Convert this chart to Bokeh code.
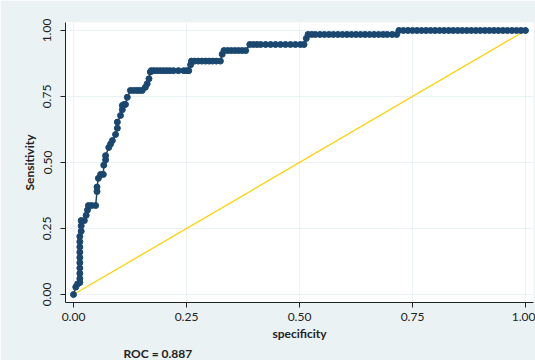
from bokeh.plotting import figure
from bokeh.models import Range1d, Title, FixedTicker
from bokeh.embed import file_html
from bokeh.resources import INLINE

# 1 - specificity (x) and sensitivity (y)
fpr = [0.000, 0.005, 0.009, 0.014, 0.014, 0.014, 0.014, 0.014, 0.014, 0.014, 0.014, 0.014, 0.014,
       0.017, 0.017, 0.017, 0.024, 0.028, 0.031, 0.033, 0.040, 0.049,
       0.052, 0.052, 0.055, 0.060, 0.066, 0.067, 0.071, 0.071, 0.078, 0.082, 0.086, 0.093,
       0.097, 0.097, 0.104, 0.108, 0.108, 0.112, 0.115, 0.119, 0.126, 0.133, 0.140, 0.146, 0.152,
       0.159, 0.163, 0.167, 0.170, 0.172,
       0.178, 0.185, 0.192, 0.199, 0.206, 0.213, 0.221, 0.232, 0.244, 0.251, 0.255,
       0.259, 0.261, 0.268, 0.276, 0.284, 0.292, 0.300, 0.308, 0.316, 0.325,
       0.329, 0.333, 0.341, 0.349, 0.357, 0.365, 0.373, 0.381,
       0.390, 0.398, 0.406, 0.414, 0.425, 0.436, 0.447, 0.458, 0.469, 0.480, 0.491, 0.502, 0.510,
       0.515, 0.519, 0.527, 0.535, 0.545, 0.555, 0.565, 0.575, 0.585, 0.595, 0.605, 0.615, 0.625,
       0.635, 0.645, 0.655, 0.665, 0.675, 0.685, 0.694, 0.705, 0.715,
       0.720, 0.730, 0.740, 0.750, 0.760, 0.770, 0.780, 0.790, 0.800, 0.810, 0.820, 0.830, 0.840,
       0.850, 0.860, 0.870, 0.880, 0.890, 0.900, 0.910, 0.920, 0.930, 0.940, 0.950, 0.960, 0.970,
       0.980, 0.990, 1.000]
tpr = [0.000, 0.028, 0.040, 0.045, 0.060, 0.080, 0.100, 0.120, 0.140, 0.160, 0.180, 0.200, 0.220,
       0.240, 0.260, 0.280, 0.280, 0.300, 0.320, 0.337, 0.337, 0.337,
       0.390, 0.407, 0.440, 0.455, 0.455, 0.490, 0.510, 0.526, 0.557, 0.570, 0.583, 0.606,
       0.630, 0.653, 0.678, 0.700, 0.716, 0.720, 0.720, 0.747, 0.773, 0.773, 0.773, 0.773, 0.773,
       0.785, 0.798, 0.817, 0.843, 0.848,
       0.848, 0.848, 0.848, 0.848, 0.848, 0.848, 0.848, 0.848, 0.848, 0.848, 0.848,
       0.870, 0.884, 0.884, 0.884, 0.884, 0.884, 0.884, 0.884, 0.884, 0.884,
       0.910, 0.924, 0.924, 0.924, 0.924, 0.924, 0.924, 0.924,
       0.947, 0.947, 0.947, 0.947, 0.947, 0.947, 0.947, 0.947, 0.947, 0.947, 0.947, 0.947, 0.947,
       0.970, 0.985, 0.985, 0.985, 0.985, 0.985, 0.985, 0.985, 0.985, 0.985, 0.985, 0.985, 0.985,
       0.985, 0.985, 0.985, 0.985, 0.985, 0.985, 0.985, 0.985, 0.985,
       1.000, 1.000, 1.000, 1.000, 1.000, 1.000, 1.000, 1.000, 1.000, 1.000, 1.000, 1.000, 1.000,
       1.000, 1.000, 1.000, 1.000, 1.000, 1.000, 1.000, 1.000, 1.000, 1.000, 1.000, 1.000, 1.000,
       1.000, 1.000, 1.000]
ref_x = [0.0, 1.0]
ref_y = [0.0, 1.0]
ticks = [0.0, 0.25, 0.5, 0.75, 1.0]
tick_labels = {0.0: "0.00", 0.25: "0.25", 0.5: "0.50", 0.75: "0.75", 1.0: "1.00"}
title_text = "ROC = 0.887"

BG = "#EAF2F3"
NAVY = "#1A476F"
FONT = "Lato"

p = figure(width=535, height=360, output_backend="svg", toolbar_location=None,
           x_range=Range1d(-0.0177, 1.0177), y_range=Range1d(-0.0303, 1.0303),
           min_border_left=65, min_border_right=2, min_border_top=22, min_border_bottom=58)
p.background_fill_color = "white"
p.border_fill_color = BG
p.outline_line_color = None

p.line(ref_x, ref_y, line_color="#FFD200", line_width=1.3)
p.line(fpr, tpr, line_color=NAVY, line_width=1.5)
p.scatter(fpr, tpr, size=6, fill_color=NAVY, line_color=NAVY)

for ax in (p.xaxis[0], p.yaxis[0]):
    ax.ticker = FixedTicker(ticks=ticks)
    ax.major_label_overrides = tick_labels
    ax.minor_tick_line_color = None
    ax.major_tick_out = 5
    ax.major_tick_in = 0
    ax.axis_line_color = "#222222"
    ax.major_tick_line_color = "#222222"
    ax.major_label_text_font = FONT
    ax.major_label_text_font_size = "12px"
    ax.major_label_text_color = "#222222"
    ax.axis_label_text_font = FONT
    ax.axis_label_text_font_size = "12px"
    ax.axis_label_text_font_style = "bold"
    ax.axis_label_text_color = "#222222"

p.xaxis.axis_label = "specificity"
p.yaxis.axis_label = "Sensitivity"
p.yaxis.major_label_orientation = "vertical"
p.yaxis.major_label_standoff = 9
p.xaxis.axis_label_standoff = 2
p.yaxis.axis_label_standoff = 4

p.xgrid.ticker = FixedTicker(ticks=ticks)
p.ygrid.ticker = FixedTicker(ticks=ticks)
p.grid.grid_line_color = BG
p.grid.grid_line_width = 1

t = Title(text=title_text, align="left", offset=58, text_font=FONT,
          text_font_size="12px", text_font_style="bold", text_color="#222222",
          standoff=0)
p.add_layout(t, "below")

open("out.html", "w").write(file_html(p, INLINE))
